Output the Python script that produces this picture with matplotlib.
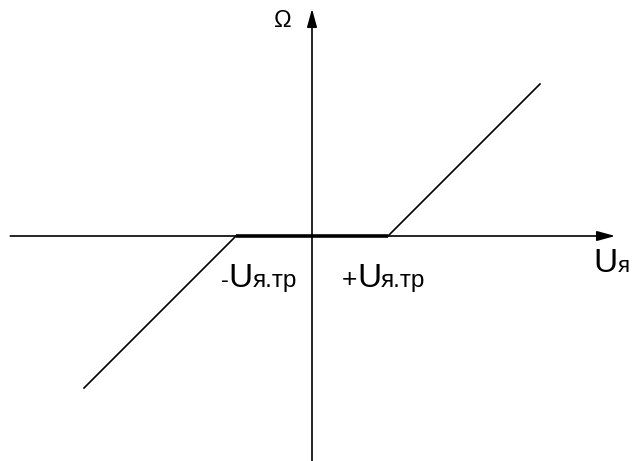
import matplotlib
matplotlib.use("Agg")
import matplotlib.pyplot as plt

plt.rcParams['font.family'] = ['Liberation Sans', 'DejaVu Sans']

# characteristic Omega(U), in units of the threshold voltage U_tr
u_vals = [-3, -1, 1, 3]
omega_vals = [-2, 0, 0, 2]
dead_zone = [-1, 1]

# axis extents
x_axis = [-3.97, 3.99]
y_axis = [-3.0, 2.99]

fig = plt.figure(figsize=(6.32, 4.61), dpi=100)
ax = fig.add_axes([0, 0, 1, 1])
ax.set_xlim(-312 / 76, 320 / 76)
ax.set_ylim((236 - 461) / 76, 236 / 76)
ax.axis('off')

# axes with arrows
arrow = dict(arrowstyle='-|>,head_length=1.1,head_width=0.3', mutation_scale=10,
             color='black', lw=1.2, shrinkA=0, shrinkB=0)
ax.annotate('', xy=(x_axis[1], 0), xytext=(x_axis[0], 0), arrowprops=arrow)
ax.annotate('', xy=(0, y_axis[1]), xytext=(0, y_axis[0]), arrowprops=arrow)

# characteristic
ax.plot(u_vals[:2], omega_vals[:2], color='black', lw=1.2)
ax.plot(u_vals[2:], omega_vals[2:], color='black', lw=1.2)
ax.plot(dead_zone, [0, 0], color='black', lw=2.6, solid_capstyle='butt')

renderer = fig.canvas.get_renderer()


def chain(x, y, pieces):
    # put text pieces one after another on a common baseline
    for s, size in pieces:
        t = ax.text(x, y, s, fontsize=size, va='baseline', ha='left')
        bb = t.get_window_extent(renderer)
        x = ax.transData.inverted().transform((bb.x1, bb.y0))[0]


ax.text(-0.382, 2.83, 'Ω', fontsize=17, ha='center', va='center')

base = -0.671
chain(-1.20, base, [('-', 17), ('U', 24), ('я.тр', 17.5)])
chain(0.39, base, [('+', 19), ('U', 24), ('я.тр', 17.5)])
chain(3.70, -0.474, [('U', 24), ('я', 16)])

fig.savefig('out.png', dpi=100)
